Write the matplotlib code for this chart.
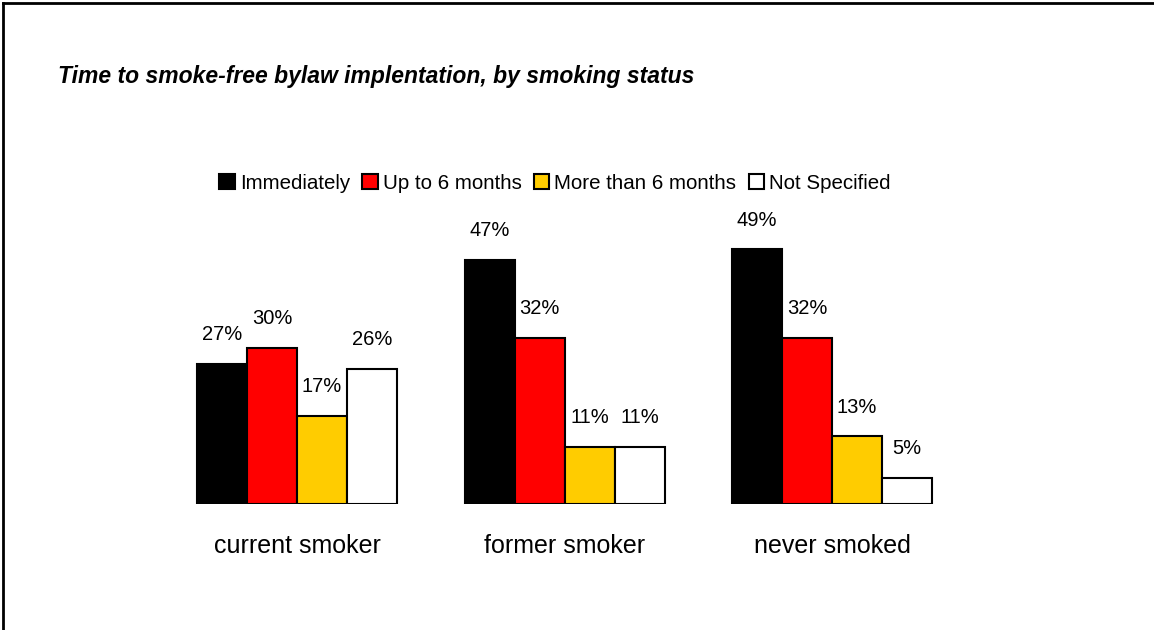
import matplotlib
matplotlib.use('Agg')
import matplotlib.pyplot as plt
from matplotlib.patches import Patch
from matplotlib.lines import Line2D
import numpy as np

plt.rcParams['font.family'] = ['Liberation Sans', 'DejaVu Sans']

categories = ['current smoker', 'former smoker', 'never smoked']
series_names = ['Immediately', 'Up to 6 months', 'More than 6 months', 'Not Specified']
immediately = [27, 47, 49]
up_to_6 = [30, 32, 32]
more_than_6 = [17, 11, 13]
not_specified = [26, 11, 5]
values = [immediately, up_to_6, more_than_6, not_specified]
bar_colors = ['#000000', '#ff0000', '#ffcc00', '#ffffff']

W, H = 1154, 630
fig = plt.figure(figsize=(W / 100, H / 100), dpi=100)

# axes placed in pixels: group centres at 297, 564, 832 px, baseline at y=504
ax = fig.add_axes([29.5 / W, 126 / H, 1070 / W, 312 / H])
ax.set_xlim(-1, 3)
ax.set_ylim(0, 60)
ax.axis('off')

x = np.arange(len(categories))
width = 50 / 267.5
for i, (name, vals, col) in enumerate(zip(series_names, values, bar_colors)):
    pos = x + (i - 1.5) * width
    ax.bar(pos, vals, width, color=col, edgecolor='black', linewidth=1.5, label=name)
    for xp, v in zip(pos, vals):
        ax.annotate('{}%'.format(v), (xp, v), xytext=(0, 21), textcoords='offset points',
                    ha='center', va='center', fontsize=14.5)

for xc, cat in zip(x, categories):
    ax.annotate(cat, (xc, 0), xytext=(0, -30), textcoords='offset points',
                ha='center', va='center', fontsize=18)

handles = [Patch(facecolor=c, edgecolor='black', linewidth=1.5) for c in bar_colors]
fig.legend(handles, series_names, loc='center', bbox_to_anchor=(555 / W, 1 - 183 / H),
           ncol=4, frameon=False, fontsize=14.8, handlelength=0.75, handleheight=0.75,
           handletextpad=0.25, columnspacing=0.6)

fig.text(58 / W, 1 - 77 / H, 'Time to smoke-free bylaw implentation, by smoking status',
         fontsize=16.5, fontweight='bold', fontstyle='italic', ha='left', va='center')

# frame lines on left and top edge
fig.add_artist(Line2D([3 / W, 3 / W], [0, 1 - 3 / H], color='black', linewidth=2))
fig.add_artist(Line2D([3 / W, 1], [1 - 3 / H, 1 - 3 / H], color='black', linewidth=2))

fig.savefig('out.png', dpi=100)
